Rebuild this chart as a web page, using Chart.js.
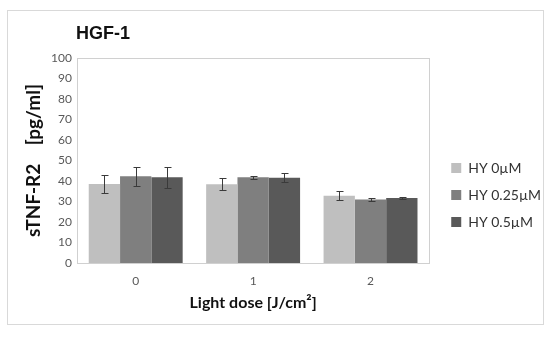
<!DOCTYPE html>
<html>
<head>
<meta charset="utf-8">
<script src="https://cdn.jsdelivr.net/npm/chart.js@4"></script>
<style>
  body { margin: 0; background: #fff; }
  #wrap { position: relative; width: 550px; height: 337px; }
  #frame { position: absolute; left: 7px; top: 10px; width: 537px; height: 315px; border: 1px solid #d9d9d9; box-sizing: border-box; pointer-events: none; }
</style>
</head>
<body>
<div id="wrap">
  <canvas id="chart" width="550" height="337"></canvas>
  <div id="frame"></div>
</div>
<script>
// data
var doses = ['0', '1', '2'];
var seriesNames = ['HY 0\u00b5M', 'HY 0.25\u00b5M', 'HY 0.5\u00b5M'];
var hy0 = [38.5, 38.4, 32.8];
var hy025 = [42.3, 41.8, 31.0];
var hy05 = [41.8, 41.6, 31.7];
// half length of the error bars
var err0 = [4.3, 3.0, 2.2];
var err025 = [4.7, 0.8, 0.7];
var err05 = [5.2, 2.3, 0.6];
var yTicks = [0, 10, 20, 30, 40, 50, 60, 70, 80, 90, 100];

var colors = ['#bfbfbf', '#7f7f7f', '#595959'];
var font = 'Lato';

// error bars, caps drawn through the scales
var errorBars = {
    id: 'errorBars',
    afterDatasetsDraw: function (chart) {
        var ctx = chart.ctx;
        var y = chart.scales.y;
        ctx.save();
        ctx.strokeStyle = '#3a3a3a';
        ctx.lineWidth = 1;
        chart.data.datasets.forEach(function (ds, i) {
            var meta = chart.getDatasetMeta(i);
            meta.data.forEach(function (bar, j) {
                var v = ds.data[j], e = ds.errors[j];
                var x = Math.round(bar.x) + 0.5;
                var top = Math.round(y.getPixelForValue(v + e)) + 0.5;
                var bot = Math.round(y.getPixelForValue(v - e)) + 0.5;
                ctx.beginPath();
                ctx.moveTo(x, top); ctx.lineTo(x, bot);
                ctx.moveTo(x - 3, top); ctx.lineTo(x + 4, top);
                ctx.moveTo(x - 3, bot); ctx.lineTo(x + 4, bot);
                ctx.stroke();
            });
        });
        ctx.restore();
    }
};

// plot frame and chart title
var frameAndTitle = {
    id: 'frameAndTitle',
    afterLayout: function (chart) {
        // nudge the legend a little away from the plot
        chart.legend.left += 9;
        chart.legend.right += 9;
        chart.legend.top += 10;
        chart.legend.bottom += 10;
    },
    beforeDatasetsDraw: function (chart) {
        var a = chart.chartArea, ctx = chart.ctx;
        ctx.save();
        ctx.strokeStyle = '#d0d0d0';
        ctx.lineWidth = 1;
        ctx.strokeRect(Math.round(a.left) + 0.5, Math.round(a.top) + 0.5, Math.round(a.right - a.left), Math.round(a.bottom - a.top));
        ctx.restore();
    },
    afterDraw: function (chart) {
        var ctx = chart.ctx;
        ctx.save();
        ctx.fillStyle = '#111';
        ctx.font = 'bold 18px "Liberation Sans"';
        ctx.textBaseline = 'middle';
        ctx.fillText('HGF-1', 76, 34);
        ctx.restore();
    }
};

new Chart(document.getElementById('chart'), {
    type: 'bar',
    data: {
        labels: doses,
        datasets: [
            { label: seriesNames[0], data: hy0, errors: err0, backgroundColor: colors[0] },
            { label: seriesNames[1], data: hy025, errors: err025, backgroundColor: colors[1] },
            { label: seriesNames[2], data: hy05, errors: err05, backgroundColor: colors[2] }
        ]
    },
    options: {
        responsive: false,
        animation: false,
        layout: { padding: { left: 18, top: 58, right: 8, bottom: 25 } },
        datasets: { bar: { categoryPercentage: 0.8, barPercentage: 1.0 } },
        plugins: {
            legend: {
                position: 'right',
                labels: {
                    boxWidth: 10, boxHeight: 10, padding: 13,
                    color: '#333', font: { family: font, size: 14 }
                }
            },
            tooltip: { enabled: false }
        },
        scales: {
            x: {
                grid: { display: false, drawTicks: false },
                border: { color: '#9a9a9a' },
                ticks: { color: '#595959', padding: 11, font: { family: font, size: 12 } },
                title: {
                    display: true, text: 'Light dose [J/cm\u00b2]', color: '#111',
                    padding: { top: 0, bottom: 0 },
                    font: { family: font, size: 16, weight: 'bold' }
                },
                afterFit: function (axis) { axis.height = 49; }
            },
            y: {
                min: 0, max: 100,
                afterBuildTicks: function (axis) {
                    axis.ticks = yTicks.map(function (v) { return { value: v }; });
                },
                afterFit: function (axis) { axis.width = 59; },
                grid: { display: false, drawTicks: false },
                border: { color: '#7a7a7a' },
                ticks: { color: '#595959', padding: 5, font: { family: font, size: 12 } },
                title: {
                    display: true, text: 'sTNF-R2    [pg/ml]', color: '#111',
                    padding: { top: 4, bottom: 0 },
                    font: { family: font, size: 19, weight: 'bold' }
                }
            }
        }
    },
    plugins: [errorBars, frameAndTitle]
});
</script>
</body>
</html>
